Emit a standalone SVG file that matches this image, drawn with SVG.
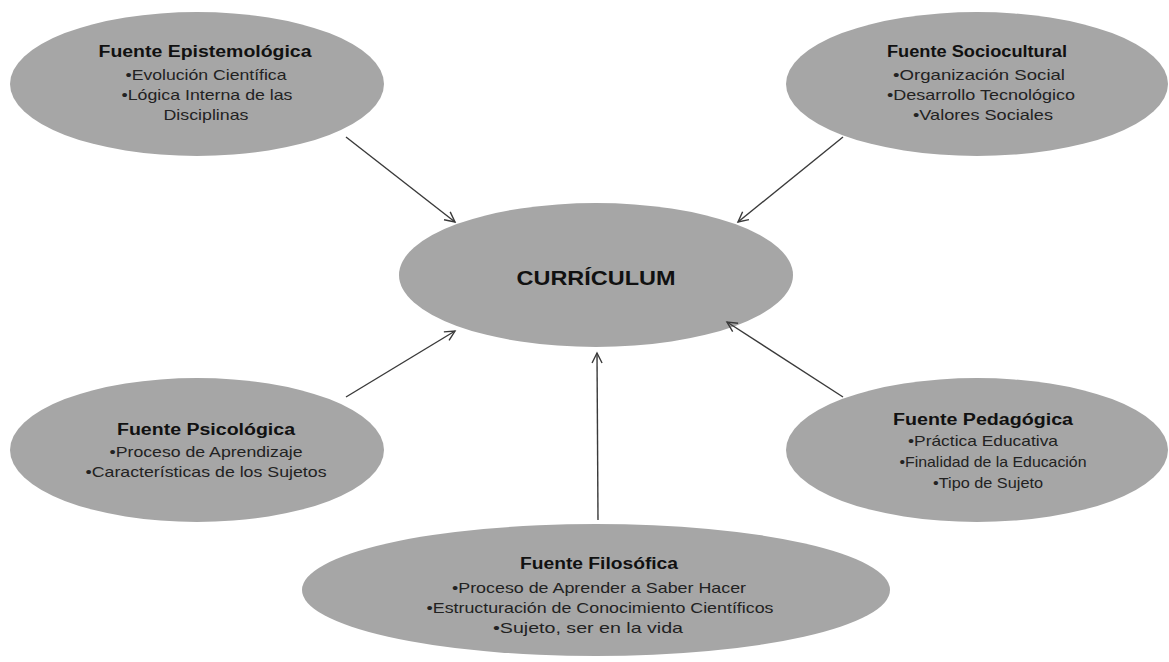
<svg xmlns="http://www.w3.org/2000/svg" width="1169" height="662" viewBox="0 0 1169 662">
<style>
.node ellipse{fill:#a6a6a6;stroke:none}
.t{font-family:"Liberation Sans",Arial,sans-serif;font-weight:bold;font-size:16px;fill:#111;text-anchor:middle}
.l{font-family:"Liberation Sans",Arial,sans-serif;font-size:15px;fill:#222;text-anchor:middle}
.c{font-family:"Liberation Sans",Arial,sans-serif;font-weight:bold;font-size:20px;fill:#111;text-anchor:middle}
.conn line{stroke:#3a3a3a;stroke-width:1.4;fill:none;marker-end:url(#ah)}
</style>
<defs>
<marker id="ah" markerUnits="userSpaceOnUse" markerWidth="14" markerHeight="14" refX="11" refY="6" orient="auto">
<path d="M1,1 L11,6 L1,11" fill="none" stroke="#3a3a3a" stroke-width="1.4"/>
</marker>
</defs>
<rect width="1169" height="662" fill="#ffffff"/>
<g id="n-epistemologica" class="node">
<ellipse cx="197" cy="84" rx="187" ry="72"/>
<text class="t" x="205" y="57" textLength="213" lengthAdjust="spacingAndGlyphs">Fuente Epistemológica</text>
<text class="l" x="206" y="80" textLength="161" lengthAdjust="spacingAndGlyphs">•Evolución Científica</text>
<text class="l" x="207" y="100" textLength="171" lengthAdjust="spacingAndGlyphs">•Lógica Interna de las</text>
<text class="l" x="206" y="120" textLength="85" lengthAdjust="spacingAndGlyphs">Disciplinas</text>
</g>
<g id="n-sociocultural" class="node">
<ellipse cx="977" cy="84" rx="191" ry="72"/>
<text class="t" x="977" y="57" textLength="180" lengthAdjust="spacingAndGlyphs">Fuente Sociocultural</text>
<text class="l" x="979" y="80" textLength="172" lengthAdjust="spacingAndGlyphs">•Organización Social</text>
<text class="l" x="981" y="100" textLength="188" lengthAdjust="spacingAndGlyphs">•Desarrollo Tecnológico</text>
<text class="l" x="983" y="120" textLength="140" lengthAdjust="spacingAndGlyphs">•Valores Sociales</text>
</g>
<g id="n-curriculum" class="node">
<ellipse cx="596" cy="275" rx="197" ry="72"/>
<text class="c" x="596" y="285" textLength="159" lengthAdjust="spacingAndGlyphs">CURRÍCULUM</text>
</g>
<g id="n-psicologica" class="node">
<ellipse cx="197" cy="450" rx="187" ry="72"/>
<text class="t" x="206" y="435" textLength="178" lengthAdjust="spacingAndGlyphs">Fuente Psicológica</text>
<text class="l" x="206" y="457" textLength="193" lengthAdjust="spacingAndGlyphs">•Proceso de Aprendizaje</text>
<text class="l" x="206" y="477" textLength="241" lengthAdjust="spacingAndGlyphs">•Características de los Sujetos</text>
</g>
<g id="n-pedagogica" class="node">
<ellipse cx="977" cy="450" rx="191" ry="72"/>
<text class="t" x="983" y="425" textLength="180" lengthAdjust="spacingAndGlyphs">Fuente Pedagógica</text>
<text class="l" x="983" y="446" textLength="150" lengthAdjust="spacingAndGlyphs">•Práctica Educativa</text>
<text class="l" x="993" y="467" textLength="187" lengthAdjust="spacingAndGlyphs">•Finalidad de la Educación</text>
<text class="l" x="988" y="488" textLength="110" lengthAdjust="spacingAndGlyphs">•Tipo de Sujeto</text>
</g>
<g id="n-filosofica" class="node">
<ellipse cx="596" cy="590" rx="294" ry="66"/>
<text class="t" x="599" y="569" textLength="158" lengthAdjust="spacingAndGlyphs">Fuente Filosófica</text>
<text class="l" x="599" y="593" textLength="294" lengthAdjust="spacingAndGlyphs">•Proceso de Aprender a Saber Hacer</text>
<text class="l" x="600" y="613" textLength="347" lengthAdjust="spacingAndGlyphs">•Estructuración de Conocimiento Científicos</text>
<text class="l" x="588" y="633" textLength="190" lengthAdjust="spacingAndGlyphs">•Sujeto, ser en la vida</text>
</g>
<g id="connectors" class="conn">
<line x1="346" y1="137" x2="455" y2="222"/>
<line x1="843" y1="137" x2="738" y2="222"/>
<line x1="346" y1="397" x2="455" y2="331"/>
<line x1="843" y1="397" x2="727" y2="322"/>
<line x1="598" y1="520" x2="597" y2="353"/>
</g>
</svg>
